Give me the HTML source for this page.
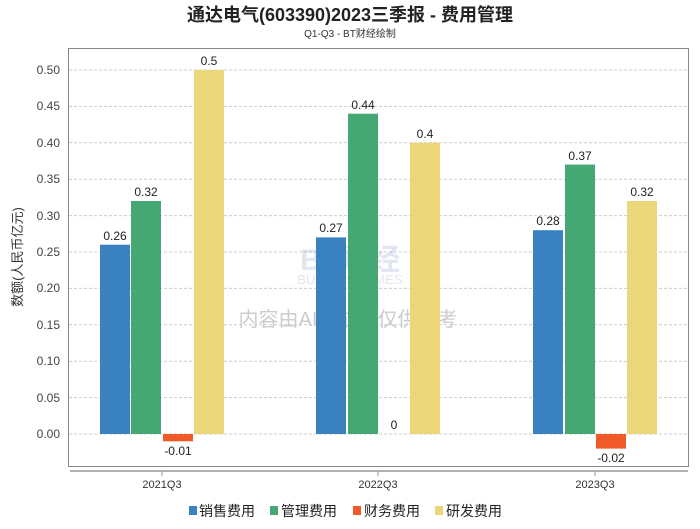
<!DOCTYPE html>
<html><head><meta charset="utf-8"><style>
body{margin:0;background:#fff;width:700px;height:524px;overflow:hidden}
text{font-family:"Liberation Sans","Noto Sans CJK SC",sans-serif}
</style></head><body>
<svg width="700" height="524" xmlns="http://www.w3.org/2000/svg">
<text x="350" y="21" text-anchor="middle" font-size="18" font-weight="bold" fill="#222">通达电气(603390)2023三季报 - 费用管理</text>
<text x="350" y="37" text-anchor="middle" font-size="10" fill="#333">Q1-Q3 - BT财经绘制</text>
<rect x="68.5" y="48.5" width="620" height="418" fill="#fff" stroke="#888"/>
<g stroke="#ccc" stroke-dasharray="3,2">
<line x1="69" x2="688" y1="70" y2="70"/><line x1="69" x2="688" y1="106.4" y2="106.4"/>
<line x1="69" x2="688" y1="142.8" y2="142.8"/><line x1="69" x2="688" y1="179.2" y2="179.2"/>
<line x1="69" x2="688" y1="215.6" y2="215.6"/><line x1="69" x2="688" y1="252" y2="252"/>
<line x1="69" x2="688" y1="288.4" y2="288.4"/><line x1="69" x2="688" y1="324.8" y2="324.8"/>
<line x1="69" x2="688" y1="361.2" y2="361.2"/><line x1="69" x2="688" y1="397.6" y2="397.6"/>
<line x1="69" x2="688" y1="434" y2="434"/>
</g>
<g font-size="12" fill="#444" text-anchor="end">
<text x="60" y="74">0.50</text><text x="60" y="110">0.45</text><text x="60" y="147">0.40</text>
<text x="60" y="183">0.35</text><text x="60" y="220">0.30</text><text x="60" y="256">0.25</text>
<text x="60" y="292">0.20</text><text x="60" y="329">0.15</text><text x="60" y="365">0.10</text>
<text x="60" y="402">0.05</text><text x="60" y="438">0.00</text>
</g>
<text transform="translate(22,257) rotate(-90)" text-anchor="middle" font-size="13" fill="#333">数额(人民币亿元)</text>
<g opacity="0.25">
<text x="350" y="270" text-anchor="middle" font-size="30" font-weight="bold" fill="#8aa0c8">BT财经</text>
<text x="350" y="284" text-anchor="middle" font-size="13" fill="#8aa0c8">BUSINESSTIMES</text>
</g>
<text x="348" y="326" text-anchor="middle" font-size="20" fill="#ccc">内容由AI生成，仅供参考</text>
<rect x="100" y="244.7" width="30" height="189.3" fill="#3a82bf"/>
<rect x="131" y="201" width="30" height="233" fill="#45a874"/>
<rect x="163" y="434" width="30" height="7.3" fill="#ef5a28"/>
<rect x="194" y="70" width="30" height="364" fill="#ecd67a"/>
<rect x="316" y="237.4" width="30" height="196.6" fill="#3a82bf"/>
<rect x="348" y="113.7" width="30" height="320.3" fill="#45a874"/>
<rect x="410" y="142.8" width="30" height="291.2" fill="#ecd67a"/>
<rect x="533" y="230.2" width="30" height="203.8" fill="#3a82bf"/>
<rect x="565" y="164.6" width="30" height="269.4" fill="#45a874"/>
<rect x="596" y="434" width="30" height="14.6" fill="#ef5a28"/>
<rect x="627" y="201" width="30" height="233" fill="#ecd67a"/>
<g font-size="12" fill="#222" text-anchor="middle">
<text x="115" y="240">0.26</text><text x="146" y="196">0.32</text><text x="178" y="455">-0.01</text><text x="209" y="65">0.5</text>
<text x="331" y="232">0.27</text><text x="363" y="109">0.44</text><text x="394" y="429">0</text><text x="425" y="138">0.4</text>
<text x="548" y="225">0.28</text><text x="580" y="160">0.37</text><text x="611" y="462">-0.02</text><text x="642" y="196">0.32</text>
</g>
<line x1="70" x2="688" y1="471" y2="471" stroke="#999" stroke-width="1.5"/>
<g stroke="#999"><line x1="162" x2="162" y1="471" y2="476"/><line x1="378" x2="378" y1="471" y2="476"/><line x1="595" x2="595" y1="471" y2="476"/></g>
<g font-size="11" fill="#333" text-anchor="middle">
<text x="162" y="488">2021Q3</text><text x="378" y="488">2022Q3</text><text x="595" y="488">2023Q3</text>
</g>
<g font-size="14" fill="#222">
<rect x="189" y="506" width="8" height="9" fill="#3a82bf"/><text x="199" y="516">销售费用</text>
<rect x="270" y="506" width="8" height="9" fill="#45a874"/><text x="281" y="516">管理费用</text>
<rect x="353" y="506" width="8" height="9" fill="#ef5a28"/><text x="364" y="516">财务费用</text>
<rect x="435" y="506" width="8" height="9" fill="#ecd67a"/><text x="446" y="516">研发费用</text>
</g>
</svg>
</body></html>
